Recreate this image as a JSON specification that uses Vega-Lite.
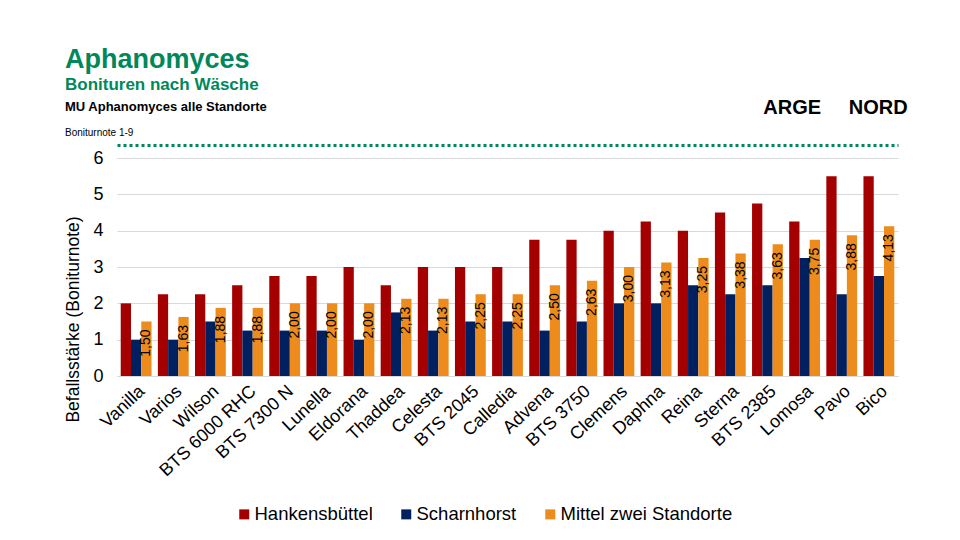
{
  "$schema": "https://vega.github.io/schema/vega-lite/v6.json",
  "background": "white",
  "padding": {"left": 64, "top": 46, "right": 10, "bottom": 10},
  "title": {
    "text": "Aphanomyces",
    "subtitle": "Bonituren nach Wäsche",
    "anchor": "start",
    "font": "Liberation Sans",
    "fontSize": 27,
    "fontWeight": "bold",
    "color": "#00875A",
    "subtitleFont": "Liberation Sans",
    "subtitleFontSize": 17,
    "subtitleFontWeight": "bold",
    "subtitleColor": "#00875A",
    "subtitlePadding": 3,
    "offset": 3
  },
  "datasets": {
    "noten": [
      {"Sorte": "Vanilla", "Standort": "Hankensbüttel", "Note": 2.0},
      {"Sorte": "Vanilla", "Standort": "Scharnhorst", "Note": 1.0},
      {"Sorte": "Vanilla", "Standort": "Mittel zwei Standorte", "Note": 1.5},
      {"Sorte": "Varios", "Standort": "Hankensbüttel", "Note": 2.25},
      {"Sorte": "Varios", "Standort": "Scharnhorst", "Note": 1.0},
      {"Sorte": "Varios", "Standort": "Mittel zwei Standorte", "Note": 1.625},
      {"Sorte": "Wilson", "Standort": "Hankensbüttel", "Note": 2.25},
      {"Sorte": "Wilson", "Standort": "Scharnhorst", "Note": 1.5},
      {"Sorte": "Wilson", "Standort": "Mittel zwei Standorte", "Note": 1.875},
      {"Sorte": "BTS 6000 RHC", "Standort": "Hankensbüttel", "Note": 2.5},
      {"Sorte": "BTS 6000 RHC", "Standort": "Scharnhorst", "Note": 1.25},
      {"Sorte": "BTS 6000 RHC", "Standort": "Mittel zwei Standorte", "Note": 1.875},
      {"Sorte": "BTS 7300 N", "Standort": "Hankensbüttel", "Note": 2.75},
      {"Sorte": "BTS 7300 N", "Standort": "Scharnhorst", "Note": 1.25},
      {"Sorte": "BTS 7300 N", "Standort": "Mittel zwei Standorte", "Note": 2.0},
      {"Sorte": "Lunella", "Standort": "Hankensbüttel", "Note": 2.75},
      {"Sorte": "Lunella", "Standort": "Scharnhorst", "Note": 1.25},
      {"Sorte": "Lunella", "Standort": "Mittel zwei Standorte", "Note": 2.0},
      {"Sorte": "Eldorana", "Standort": "Hankensbüttel", "Note": 3.0},
      {"Sorte": "Eldorana", "Standort": "Scharnhorst", "Note": 1.0},
      {"Sorte": "Eldorana", "Standort": "Mittel zwei Standorte", "Note": 2.0},
      {"Sorte": "Thaddea", "Standort": "Hankensbüttel", "Note": 2.5},
      {"Sorte": "Thaddea", "Standort": "Scharnhorst", "Note": 1.75},
      {"Sorte": "Thaddea", "Standort": "Mittel zwei Standorte", "Note": 2.125},
      {"Sorte": "Celesta", "Standort": "Hankensbüttel", "Note": 3.0},
      {"Sorte": "Celesta", "Standort": "Scharnhorst", "Note": 1.25},
      {"Sorte": "Celesta", "Standort": "Mittel zwei Standorte", "Note": 2.125},
      {"Sorte": "BTS 2045", "Standort": "Hankensbüttel", "Note": 3.0},
      {"Sorte": "BTS 2045", "Standort": "Scharnhorst", "Note": 1.5},
      {"Sorte": "BTS 2045", "Standort": "Mittel zwei Standorte", "Note": 2.25},
      {"Sorte": "Calledia", "Standort": "Hankensbüttel", "Note": 3.0},
      {"Sorte": "Calledia", "Standort": "Scharnhorst", "Note": 1.5},
      {"Sorte": "Calledia", "Standort": "Mittel zwei Standorte", "Note": 2.25},
      {"Sorte": "Advena", "Standort": "Hankensbüttel", "Note": 3.75},
      {"Sorte": "Advena", "Standort": "Scharnhorst", "Note": 1.25},
      {"Sorte": "Advena", "Standort": "Mittel zwei Standorte", "Note": 2.5},
      {"Sorte": "BTS 3750", "Standort": "Hankensbüttel", "Note": 3.75},
      {"Sorte": "BTS 3750", "Standort": "Scharnhorst", "Note": 1.5},
      {"Sorte": "BTS 3750", "Standort": "Mittel zwei Standorte", "Note": 2.625},
      {"Sorte": "Clemens", "Standort": "Hankensbüttel", "Note": 4.0},
      {"Sorte": "Clemens", "Standort": "Scharnhorst", "Note": 2.0},
      {"Sorte": "Clemens", "Standort": "Mittel zwei Standorte", "Note": 3.0},
      {"Sorte": "Daphna", "Standort": "Hankensbüttel", "Note": 4.25},
      {"Sorte": "Daphna", "Standort": "Scharnhorst", "Note": 2.0},
      {"Sorte": "Daphna", "Standort": "Mittel zwei Standorte", "Note": 3.125},
      {"Sorte": "Reina", "Standort": "Hankensbüttel", "Note": 4.0},
      {"Sorte": "Reina", "Standort": "Scharnhorst", "Note": 2.5},
      {"Sorte": "Reina", "Standort": "Mittel zwei Standorte", "Note": 3.25},
      {"Sorte": "Sterna", "Standort": "Hankensbüttel", "Note": 4.5},
      {"Sorte": "Sterna", "Standort": "Scharnhorst", "Note": 2.25},
      {"Sorte": "Sterna", "Standort": "Mittel zwei Standorte", "Note": 3.375},
      {"Sorte": "BTS 2385", "Standort": "Hankensbüttel", "Note": 4.75},
      {"Sorte": "BTS 2385", "Standort": "Scharnhorst", "Note": 2.5},
      {"Sorte": "BTS 2385", "Standort": "Mittel zwei Standorte", "Note": 3.625},
      {"Sorte": "Lomosa", "Standort": "Hankensbüttel", "Note": 4.25},
      {"Sorte": "Lomosa", "Standort": "Scharnhorst", "Note": 3.25},
      {"Sorte": "Lomosa", "Standort": "Mittel zwei Standorte", "Note": 3.75},
      {"Sorte": "Pavo", "Standort": "Hankensbüttel", "Note": 5.5},
      {"Sorte": "Pavo", "Standort": "Scharnhorst", "Note": 2.25},
      {"Sorte": "Pavo", "Standort": "Mittel zwei Standorte", "Note": 3.875},
      {"Sorte": "Bico", "Standort": "Hankensbüttel", "Note": 5.5},
      {"Sorte": "Bico", "Standort": "Scharnhorst", "Note": 2.75},
      {"Sorte": "Bico", "Standort": "Mittel zwei Standorte", "Note": 4.125}
    ]
  },
  "vconcat": [
    {
      "title": {
        "text": "MU Aphanomyces alle Standorte",
        "subtitle": "Boniturnote  1-9",
        "anchor": "start",
        "font": "Liberation Sans",
        "fontSize": 13,
        "fontWeight": "bold",
        "color": "black",
        "subtitleFont": "Liberation Sans",
        "subtitleFontSize": 10,
        "subtitleColor": "black",
        "subtitlePadding": 14,
        "offset": -41
      },
      "width": 781,
      "height": 218,
      "data": {"name": "noten"},
      "encoding": {
        "y": {
          "field": "Note",
          "type": "quantitative",
          "scale": {"domain": [0, 6]},
          "axis": {
            "title": "Befallsstärke (Boniturnote)",
            "values": [0, 1, 2, 3, 4, 5, 6],
            "tickCount": 10,
            "format": "d",
            "labelOverlap": false,
            "domain": false,
            "ticks": false,
            "gridColor": "#d9d9d9",
            "labelFontSize": 18,
            "labelColor": "black",
            "labelPadding": 14,
            "titleFontSize": 17.5,
            "titleFontWeight": "normal",
            "titleColor": "black",
            "titlePadding": 10,
            "titleY": 161
          }
        },
        "xOffset": {
          "field": "Standort",
          "type": "nominal",
          "scale": {"domain": ["Hankensbüttel", "Scharnhorst", "Mittel zwei Standorte"], "paddingInner": 0, "paddingOuter": 0}
        }
      },
      "layer": [
        {
          "mark": {"type": "bar"},
          "encoding": {
            "x": {
              "field": "Sorte",
              "type": "nominal",
              "scale": {
                "domain": ["Vanilla", "Varios", "Wilson", "BTS 6000 RHC", "BTS 7300 N", "Lunella", "Eldorana", "Thaddea", "Celesta", "BTS 2045", "Calledia", "Advena", "BTS 3750", "Clemens", "Daphna", "Reina", "Sterna", "BTS 2385", "Lomosa", "Pavo", "Bico"],
                "paddingInner": 0.17,
                "paddingOuter": 0.1
              },
              "axis": {
                "title": null,
                "labelAngle": -43,
                "labelFontSize": 18,
                "labelColor": "black",
                "labelOverlap": false,
                "ticks": false,
                "domainColor": "#d9d9d9",
                "labelPadding": 6
              }
            },
            "color": {
              "field": "Standort",
              "type": "nominal",
              "scale": {
                "domain": ["Hankensbüttel", "Scharnhorst", "Mittel zwei Standorte"],
                "range": ["#A50000", "#002060", "#ED8B1C"]
              },
              "legend": {
                "title": null,
                "orient": "none",
                "legendX": 118,
                "legendY": 347,
                "direction": "horizontal",
                "symbolType": "square",
                "symbolSize": 100,
                "symbolStrokeWidth": 0,
                "symbolOpacity": 1,
                "labelFontSize": 18.5,
                "labelColor": "black",
                "labelLimit": 400,
                "labelOffset": 1,
                "columnPadding": 24
              }
            }
          }
        },
        {
          "transform": [{"filter": "datum.Standort === 'Mittel zwei Standorte'"}],
          "mark": {
            "type": "text",
            "angle": 270,
            "align": "right",
            "baseline": "middle",
            "yOffset": 8,
            "fontSize": 14,
            "color": "black"
          },
          "encoding": {
            "x": {
              "field": "Sorte",
              "type": "nominal",
              "axis": {
                "orient": "top",
                "offset": 13,
                "labels": false,
                "ticks": false,
                "grid": false,
                "domainColor": "#00875A",
                "domainDash": [3, 3],
                "domainWidth": 3,
                "title": "ARGE\u00a0\u00a0\u00a0\u00a0\u00a0NORD",
                "titleX": 718,
                "titleY": -38,
                "titleAlign": "center",
                "titleBaseline": "middle",
                "titleAngle": 0,
                "titleFontSize": 20,
                "titleFontWeight": "bold",
                "titleColor": "black"
              }
            },
            "text": {"field": "Note", "type": "quantitative", "format": ".2f"}
          }
        }
      ],
      "resolve": {"axis": {"x": "independent"}}
    }
  ],
  "config": {
    "font": "Liberation Sans",
    "view": {"stroke": null},
    "locale": {
      "number": {"decimal": ",", "thousands": ".", "grouping": [3], "currency": ["", " €"]}
    }
  }
}
